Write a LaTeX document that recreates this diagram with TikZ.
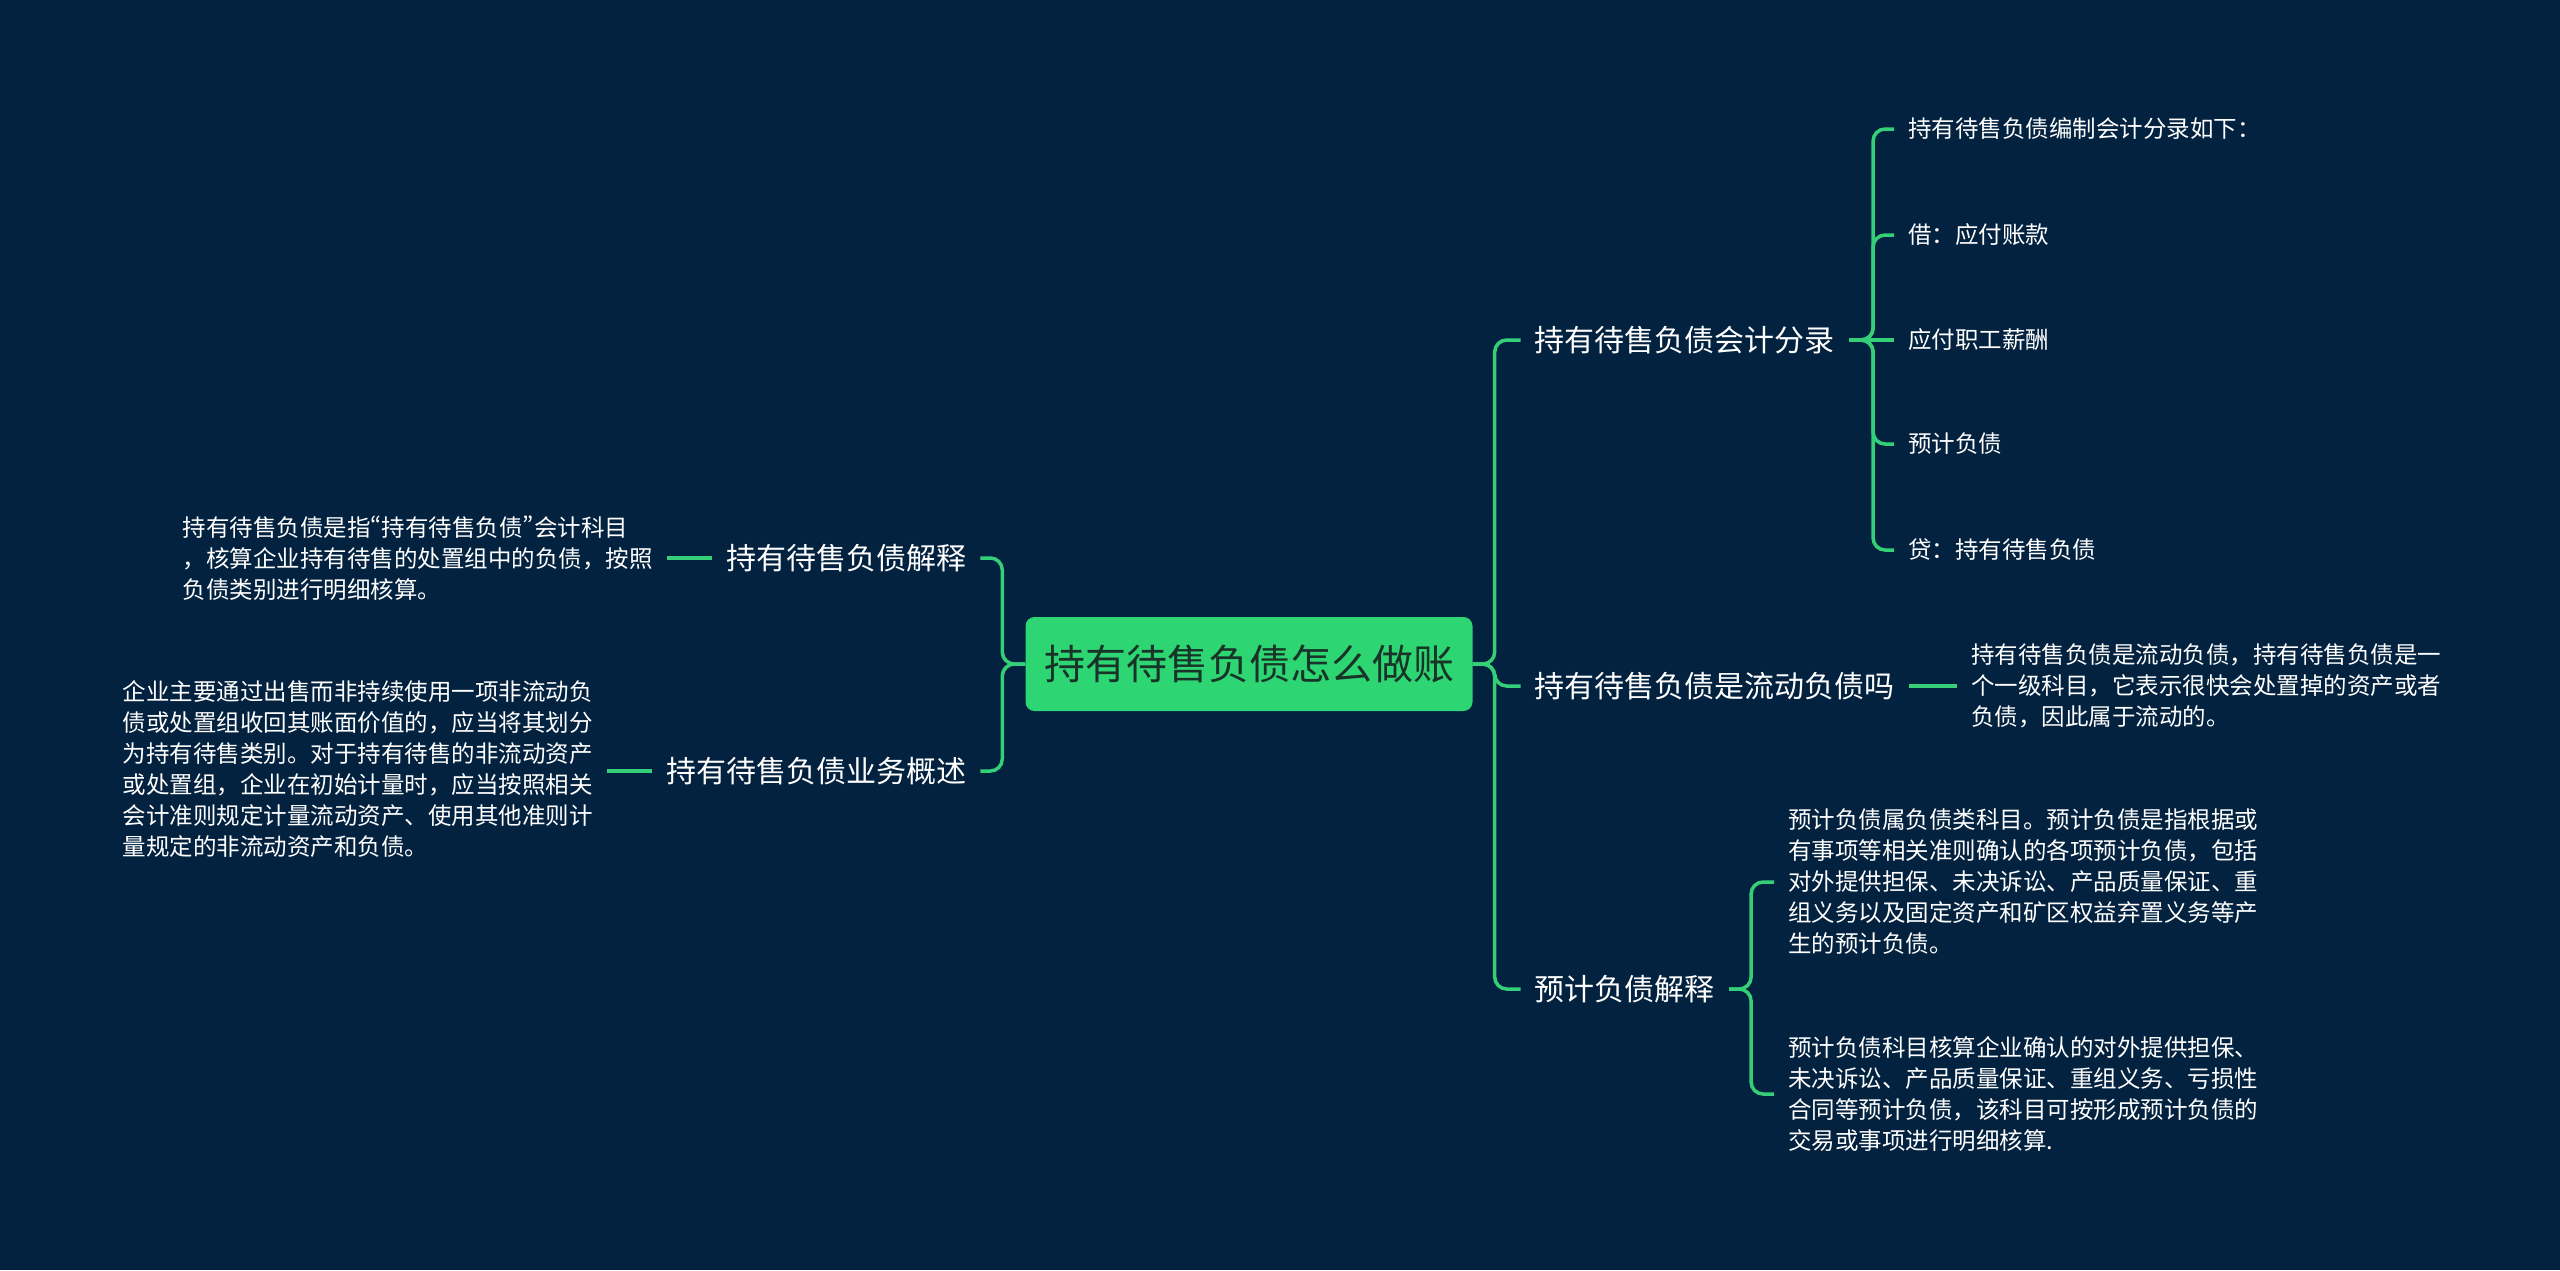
\documentclass[tikz,border=0pt]{standalone}
\usepackage{fontspec}
\setmainfont{Noto Sans CJK SC}
\newfontfamily\propquote[RawFeature={+pwid}]{Noto Sans CJK SC}
\usepackage{tikz}
\usetikzlibrary{positioning}

\definecolor{bgnavy}{RGB}{3,34,63}
\definecolor{rootgreen}{RGB}{46,213,115}
\definecolor{rootink}{RGB}{24,52,40}
\definecolor{linkgreen}{RGB}{52,207,118}

\begin{document}
\begin{tikzpicture}[
  x=1pt, y=-1pt,
  node distance=45pt,
  rootbox/.style={rectangle, rounded corners=9pt, fill=rootgreen, text=rootink, minimum width=447pt, minimum height=94pt, font=\fontsize{41}{48}\selectfont},
  branch/.style={text=white, inner xsep=14pt, font=\fontsize{30}{36}\selectfont},
  leaf/.style={text=white, inner xsep=14pt, align=left, font=\fontsize{23.5}{31}\selectfont},
  link/.style={draw=linkgreen, line width=3.5pt, rounded corners=12pt}
]
\fill[bgnavy] (0,0) rectangle (2560,1270);
\useasboundingbox (0,0) rectangle (2560,1270);

\node[rootbox] (root) at (1249,664) {持有待售负债怎么做账};

\node[branch, left=45pt of root, yshift=106pt] (expl) {持有待售负债解释};
\node[branch, left=45pt of root, yshift=-107pt] (ovw) {持有待售负债业务概述};
\node[branch, right=48pt of root, yshift=324pt] (acct) {持有待售负债会计分录};
\node[branch, right=48pt of root, yshift=-22pt] (curr) {持有待售负债是流动负债吗};
\node[branch, right=48pt of root, yshift=-325pt] (prov) {预计负债解释};

\node[leaf, left=of expl] (e1) {持有待售负债是指{\propquote “}持有待售负债{\propquote ”}会计科目\\，核算企业持有待售的处置组中的负债，按照\\负债类别进行明细核算。};
\node[leaf, left=of ovw, yshift=2pt] (o1) {企业主要通过出售而非持续使用一项非流动负\\债或处置组收回其账面价值的，应当将其划分\\为持有待售类别。对于持有待售的非流动资产\\或处置组，企业在初始计量时，应当按照相关\\会计准则规定计量流动资产、使用其他准则计\\量规定的非流动资产和负债。};

\node[leaf, right=of acct, yshift=211pt] (a1) {持有待售负债编制会计分录如下：};
\node[leaf, right=of acct, yshift=105pt] (a2) {借：应付账款};
\node[leaf, right=of acct] (a3) {应付职工薪酬};
\node[leaf, right=of acct, yshift=-104pt] (a4) {预计负债};
\node[leaf, right=of acct, yshift=-210pt] (a5) {贷：持有待售负债};

\node[leaf, right=48pt of curr] (c1) {持有待售负债是流动负债，持有待售负债是一\\个一级科目，它表示很快会处置掉的资产或者\\负债，因此属于流动的。};

\node[leaf, right=of prov, yshift=107pt] (p1) {预计负债属负债类科目。预计负债是指根据或\\有事项等相关准则确认的各项预计负债，包括\\对外提供担保、未决诉讼、产品质量保证、重\\组义务以及固定资产和矿区权益弃置义务等产\\生的预计负债。};
\node[leaf, right=of prov, yshift=-105pt] (p2) {预计负债科目核算企业确认的对外提供担保、\\未决诉讼、产品质量保证、重组义务、亏损性\\合同等预计负债，该科目可按形成预计负债的\\交易或事项进行明细核算.};

\draw[link] (root.west) -- ++(-23pt,0) |- (expl.east);
\draw[link] (root.west) -- ++(-23pt,0) |- (ovw.east);
\draw[link] (root.east) -- ++(22pt,0) |- (acct.west);
\draw[link] (root.east) -- ++(22pt,0) |- (curr.west);
\draw[link] (root.east) -- ++(22pt,0) |- (prov.west);
\foreach \k in {a1,a2,a4,a5}
  \draw[link] (acct.east) -- ++(24pt,0) |- (\k.west);
\draw[link] (acct.east) -- (a3.west);
\draw[link] (curr.east) -- (c1.west);
\draw[link] (prov.east) -- ++(22pt,0) |- (p1.west);
\draw[link] (prov.east) -- ++(22pt,0) |- (p2.west);
\draw[link] (expl.west) -- (e1.east);
\draw[link] (ovw.west) -- (o1.east |- ovw.west);
\end{tikzpicture}
\end{document}
